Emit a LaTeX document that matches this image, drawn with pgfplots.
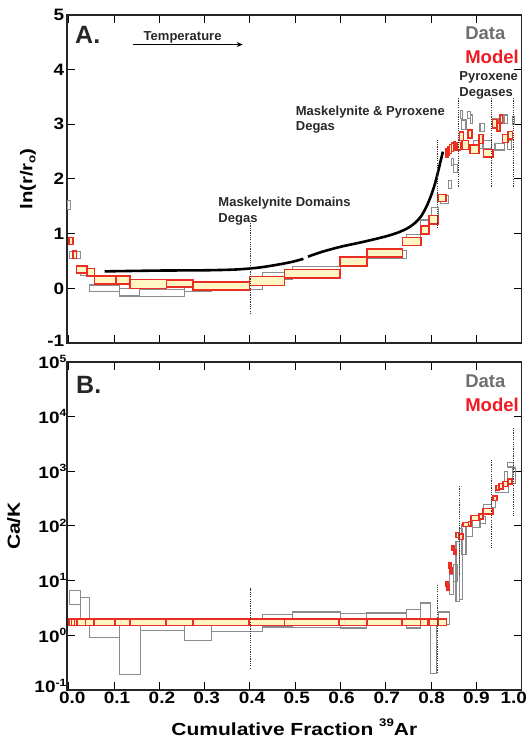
\documentclass[border=0pt]{standalone}
\usepackage{fontspec}
\setmainfont{Liberation Sans}
\newfontfamily\tickf{Liberation Sans}[FakeStretch=1.15]
\newfontfamily\labf{Liberation Sans}[FakeStretch=1.2]
\usepackage{pgfplots}
\pgfplotsset{compat=1.18}
\usepackage{pgfplotstable}
\usetikzlibrary{arrows.meta}

\definecolor{dgray}{RGB}{140,140,140}
\definecolor{mred}{RGB}{235,45,35}
\definecolor{myel}{RGB}{255,246,196}
\definecolor{datac}{RGB}{110,110,110}
\definecolor{modelc}{RGB}{237,28,36}
\definecolor{txt}{RGB}{40,40,40}

\newcommand\sups[1]{\raisebox{6.5pt}{\fontsize{10.5}{10.5}\selectfont #1}}

% ---------------- data: boxes x1 x2 y1 y2 ----------------
\pgfplotstableread{
x1 x2 y1 y2
-0.002 0.003 1.45 1.60
0.002 0.026 0.55 0.68
0.026 0.040 0.23 0.36
0.046 0.111 -0.06 0.06
0.111 0.157 -0.14 0.00
0.157 0.256 -0.15 -0.015
0.256 0.316 -0.05 0.03
0.316 0.399 -0.02 0.10
0.399 0.428 -0.015 0.095
0.428 0.494 0.155 0.29
0.494 0.600 0.265 0.40
0.600 0.658 0.45 0.59
0.658 0.746 0.55 0.70
0.746 0.777 0.83 0.98
0.777 0.797 0.98 1.25
0.800 0.816 1.34 1.48
0.820 0.838 1.55 1.70
0.838 0.845 1.83 1.98
0.845 0.850 2.24 2.38
0.850 0.858 2.12 2.26
0.864 0.870 3.11 3.26
0.868 0.877 2.90 3.08
0.880 0.886 3.11 3.23
0.886 0.892 3.01 3.17
0.893 0.914 2.56 2.71
0.908 0.917 2.87 3.02
0.916 0.934 2.56 2.70
0.936 0.948 2.96 3.11
0.941 0.963 2.53 2.65
0.961 0.968 3.02 3.17
0.969 0.978 2.54 2.71
0.980 0.985 3.00 3.15
}\topdata

\pgfplotstableread{
x1 x2 y1 y2
0.000 0.0095 0.80 0.93
0.0095 0.017 0.55 0.68
0.017 0.040 0.28 0.41
0.040 0.057 0.23 0.36
0.057 0.104 0.08 0.23
0.104 0.135 0.08 0.23
0.135 0.216 0.00 0.16
0.216 0.274 0.02 0.15
0.274 0.399 -0.03 0.12
0.399 0.476 0.05 0.22
0.476 0.599 0.19 0.34
0.599 0.658 0.41 0.57
0.658 0.737 0.57 0.72
0.737 0.778 0.78 0.93
0.778 0.795 0.99 1.14
0.795 0.815 1.18 1.33
0.815 0.833 1.59 1.72
0.833 0.837 2.40 2.55
0.837 0.841 2.44 2.59
0.841 0.845 2.47 2.63
0.845 0.849 2.50 2.66
0.849 0.853 2.53 2.69
0.857 0.865 2.53 2.67
0.863 0.871 2.70 2.86
0.868 0.882 2.54 2.70
0.881 0.890 2.75 2.90
0.886 0.906 2.47 2.62
0.906 0.915 2.65 2.81
0.916 0.937 2.40 2.54
0.936 0.945 2.93 3.09
0.945 0.952 2.88 3.02
0.952 0.958 3.02 3.17
0.958 0.970 2.67 2.81
0.970 0.980 2.73 2.87
}\topmodel

\pgfplotstableread{
x1 x2 y1 y2
0.002 0.026 3.64 6.56
0.025 0.046 1.6 5.0
0.046 0.111 0.92 1.6
0.111 0.159 0.19 1.6
0.159 0.256 1.23 1.6
0.256 0.316 0.80 1.6
0.316 0.428 1.18 1.6
0.428 0.494 1.42 2.45
0.494 0.599 1.40 2.67
0.599 0.658 1.36 2.49
0.658 0.746 1.6 2.56
0.746 0.777 1.36 3.0
0.777 0.799 1.57 3.9
0.799 0.812 0.20 1.57
0.816 0.840 1.57 2.67
0.840 0.849 5.5 12.9
0.849 0.858 9.7 20
0.855 0.862 4.2 52
0.862 0.870 4.5 91
0.868 0.877 30 105
0.877 0.891 65 105
0.891 0.908 93 130
0.908 0.920 112 148
0.916 0.934 186 245
0.934 0.943 214 324
0.943 0.970 417 525
0.963 0.968 562 1000
0.968 0.981 1200 1450
0.979 0.987 600 1150
}\botdata

\pgfplotstableread{
x1 x2 y1 y2
0.000 0.006 1.50 1.97
0.006 0.013 1.50 1.97
0.013 0.018 1.50 1.97
0.018 0.037 1.50 1.97
0.037 0.056 1.50 1.97
0.056 0.102 1.50 1.97
0.102 0.135 1.50 1.97
0.135 0.215 1.50 1.97
0.215 0.274 1.50 1.97
0.274 0.398 1.50 1.97
0.398 0.476 1.50 1.97
0.476 0.597 1.50 1.97
0.597 0.658 1.50 1.97
0.658 0.736 1.50 1.97
0.736 0.777 1.50 1.97
0.777 0.793 1.50 1.97
0.795 0.814 1.50 1.97
0.816 0.834 1.50 1.97
0.833 0.837 7.87 9.70
0.835 0.839 6.6 8.5
0.839 0.844 17.0 21.6
0.842 0.846 13.8 17.0
0.846 0.851 35.5 44.2
0.850 0.855 29.9 36.9
0.855 0.862 61.7 76.4
0.862 0.870 56.2 70.8
0.870 0.882 97 116
0.882 0.888 100 120
0.888 0.906 126 155
0.906 0.915 135 166
0.915 0.937 166 207
0.937 0.945 295 355
0.943 0.950 457 550
0.950 0.959 479 603
0.959 0.970 525 653
0.970 0.979 589 724
}\botmodel

\newcommand\drawboxes[2]{%
  \pgfplotstablegetrowsof{#1}%
  \pgfmathtruncatemacro\nbox{\pgfplotsretval-1}%
  \pgfplotsforeachungrouped \bi in {0,...,\nbox}{%
    \pgfplotstablegetelem{\bi}{x1}\of{#1}\let\xa\pgfplotsretval
    \pgfplotstablegetelem{\bi}{x2}\of{#1}\let\xb\pgfplotsretval
    \pgfplotstablegetelem{\bi}{y1}\of{#1}\let\ya\pgfplotsretval
    \pgfplotstablegetelem{\bi}{y2}\of{#1}\let\yb\pgfplotsretval
    \edef\tmp{\noexpand\addplot[#2] coordinates {(\xa,\ya) (\xb,\ya) (\xb,\yb) (\xa,\yb)} -- cycle;}%
    \tmp}}

\pgfplotsset{
  databox/.style={draw=dgray, line width=1.1pt, line join=miter},
  modelbox/.style={draw=mred, line width=1.5pt, fill=myel, line join=miter},
  vdot/.style={black!80, line width=0.9pt, dash pattern=on 1.2pt off 1.1pt},
  panel/.style={scale only axis, width=454.7pt, height=328pt,
    xmin=-0.004, xmax=1.0,
    xtick={0,0.1,0.2,0.3,0.4,0.5,0.6,0.7,0.8,0.9,1.0},
    tick align=inside, major tick length=8pt,
    axis line style={line width=1.3pt, black!85},
    every tick/.style={black, line width=1pt},
    minor tick style={draw=none},
    clip=false,
    tick label style={font=\tickf\bfseries\fontsize{16.5}{17}\selectfont},
  },
}
\tikzset{ann/.style={font=\bfseries\fontsize{13}{13}\selectfont, text=txt, inner sep=0pt, anchor=base west}}

\begin{document}
\begin{tikzpicture}
\useasboundingbox (0pt,0pt) rectangle (526pt,742pt);
% ---------------- panel A ----------------
\begin{axis}[panel, at={(67pt,399pt)}, anchor=south west,
  ymin=-1, ymax=5, ytick={-1,0,1,2,3,4,5},
  yticklabels={\raisebox{5pt}{-1},0,1,2,3,4,\raisebox{-4pt}{5}},
  xticklabels={},
  yticklabel style={inner xsep=2.5pt},
  ylabel={ln(r/r\raisebox{-3pt}{\fontsize{11}{11}\selectfont o})},
  ylabel style={at={(axis description cs:-0.086,0.5)}, anchor=center,
    font=\labf\bfseries\fontsize{17}{17}\selectfont},
]
\drawboxes{\topdata}{databox}
\drawboxes{\topmodel}{modelbox}
\addplot[black, line width=2.6pt, smooth, tension=0.5] coordinates {
 (0.079,0.31) (0.2,0.325) (0.3,0.33) (0.37,0.345) (0.42,0.38) (0.466,0.44) (0.496,0.49) (0.518,0.54)};
\addplot[black, line width=2.6pt, smooth, tension=0.5] coordinates {
 (0.528,0.58) (0.56,0.67) (0.60,0.76) (0.65,0.85) (0.70,0.95) (0.73,1.03) (0.75,1.11) (0.765,1.20) (0.778,1.32) (0.79,1.50) (0.80,1.70) (0.808,1.90) (0.815,2.12) (0.821,2.33) (0.826,2.50)};
\addplot[vdot] coordinates {(0.4,-0.47) (0.4,1.19)};
\addplot[vdot] coordinates {(0.814,1.10) (0.814,2.71)};
\addplot[vdot] coordinates {(0.861,1.86) (0.861,3.48)};
\addplot[vdot] coordinates {(0.933,1.86) (0.933,3.48)};
\addplot[vdot] coordinates {(0.981,1.86) (0.981,3.48)};
\addplot[black, line width=1.2pt, -{Stealth[length=6pt,width=5pt]}] coordinates {(0.141,4.46) (0.384,4.46)};
\node[inner sep=0pt, anchor=base west, font=\bfseries\fontsize{25}{25}\selectfont, text=black!85] at (axis cs:0.0137,4.483) {A.};
\node[ann] at (axis cs:0.165,4.525) {Temperature};
\node[inner sep=0pt, anchor=base west, font=\bfseries\fontsize{18.5}{18.5}\selectfont, text=datac] at (axis cs:0.875,4.559) {Data};
\node[inner sep=0pt, anchor=base west, font=\bfseries\fontsize{18.5}{18.5}\selectfont, text=modelc] at (axis cs:0.875,4.12) {Model};
\node[ann] at (axis cs:0.862,3.793) {Pyroxene};
\node[ann] at (axis cs:0.862,3.506) {Degases};
\node[ann] at (axis cs:0.501,3.163) {Maskelynite \& Pyroxene};
\node[ann] at (axis cs:0.501,2.879) {Degas};
\node[ann] at (axis cs:0.330,1.495) {Maskelynite Domains};
\node[ann] at (axis cs:0.330,1.203) {Degas};
\end{axis}
% ---------------- panel B ----------------
\begin{axis}[panel, at={(67pt,52pt)}, anchor=south west,
  ymode=log, ymin=0.1, ymax=100000,
  ytick={0.1,1,10,100,1000,10000,100000},
  yticklabels={\raisebox{8.5pt}{10\sups{-1}},10\sups{0},10\sups{1},10\sups{2},10\sups{3},10\sups{4},\raisebox{-2pt}{10\sups{5}}},
  yticklabel style={inner xsep=0.5pt},
  xticklabels={\hspace*{7pt}0.0,\hspace*{6pt}0.1,\hspace*{5pt}0.2,\hspace*{4pt}0.3,\hspace*{4pt}0.4,\hspace*{3pt}0.5,\hspace*{2pt}0.6,\hspace*{2pt}0.7,\hspace*{1pt}0.8,0.9,\hspace*{-16pt}1.0},
  xticklabel style={inner ysep=2pt},
  ylabel={Ca/K},
  ylabel style={at={(axis description cs:-0.117,0.5)}, anchor=center,
    font=\labf\bfseries\fontsize{17.5}{17.5}\selectfont},
  xlabel={Cumulative Fraction \raisebox{9pt}{\fontsize{11}{11}\selectfont 39}Ar},
  xlabel style={at={(axis description cs:0.5,-0.113)}, anchor=center,
    font=\labf\bfseries\fontsize{17.5}{17.5}\selectfont},
]
\drawboxes{\botdata}{databox}
\drawboxes{\botmodel}{modelbox}
\addplot[vdot] coordinates {(0.4,0.245) (0.4,7.5)};
\addplot[vdot] coordinates {(0.813,0.205) (0.813,8.2)};
\addplot[vdot] coordinates {(0.862,12.9) (0.862,528)};
\addplot[vdot] coordinates {(0.934,39) (0.934,1630)};
\addplot[vdot] coordinates {(0.981,150) (0.981,6150)};
\node[inner sep=0pt, anchor=base west, font=\bfseries\fontsize{25}{25}\selectfont, text=black!85] at (axis cs:0.0159,26900) {B.};
\node[inner sep=0pt, anchor=base west, font=\bfseries\fontsize{18.5}{18.5}\selectfont, text=datac] at (axis cs:0.875,34200) {Data};
\node[inner sep=0pt, anchor=base west, font=\bfseries\fontsize{18.5}{18.5}\selectfont, text=modelc] at (axis cs:0.875,12450) {Model};
\end{axis}
\end{tikzpicture}
\end{document}
